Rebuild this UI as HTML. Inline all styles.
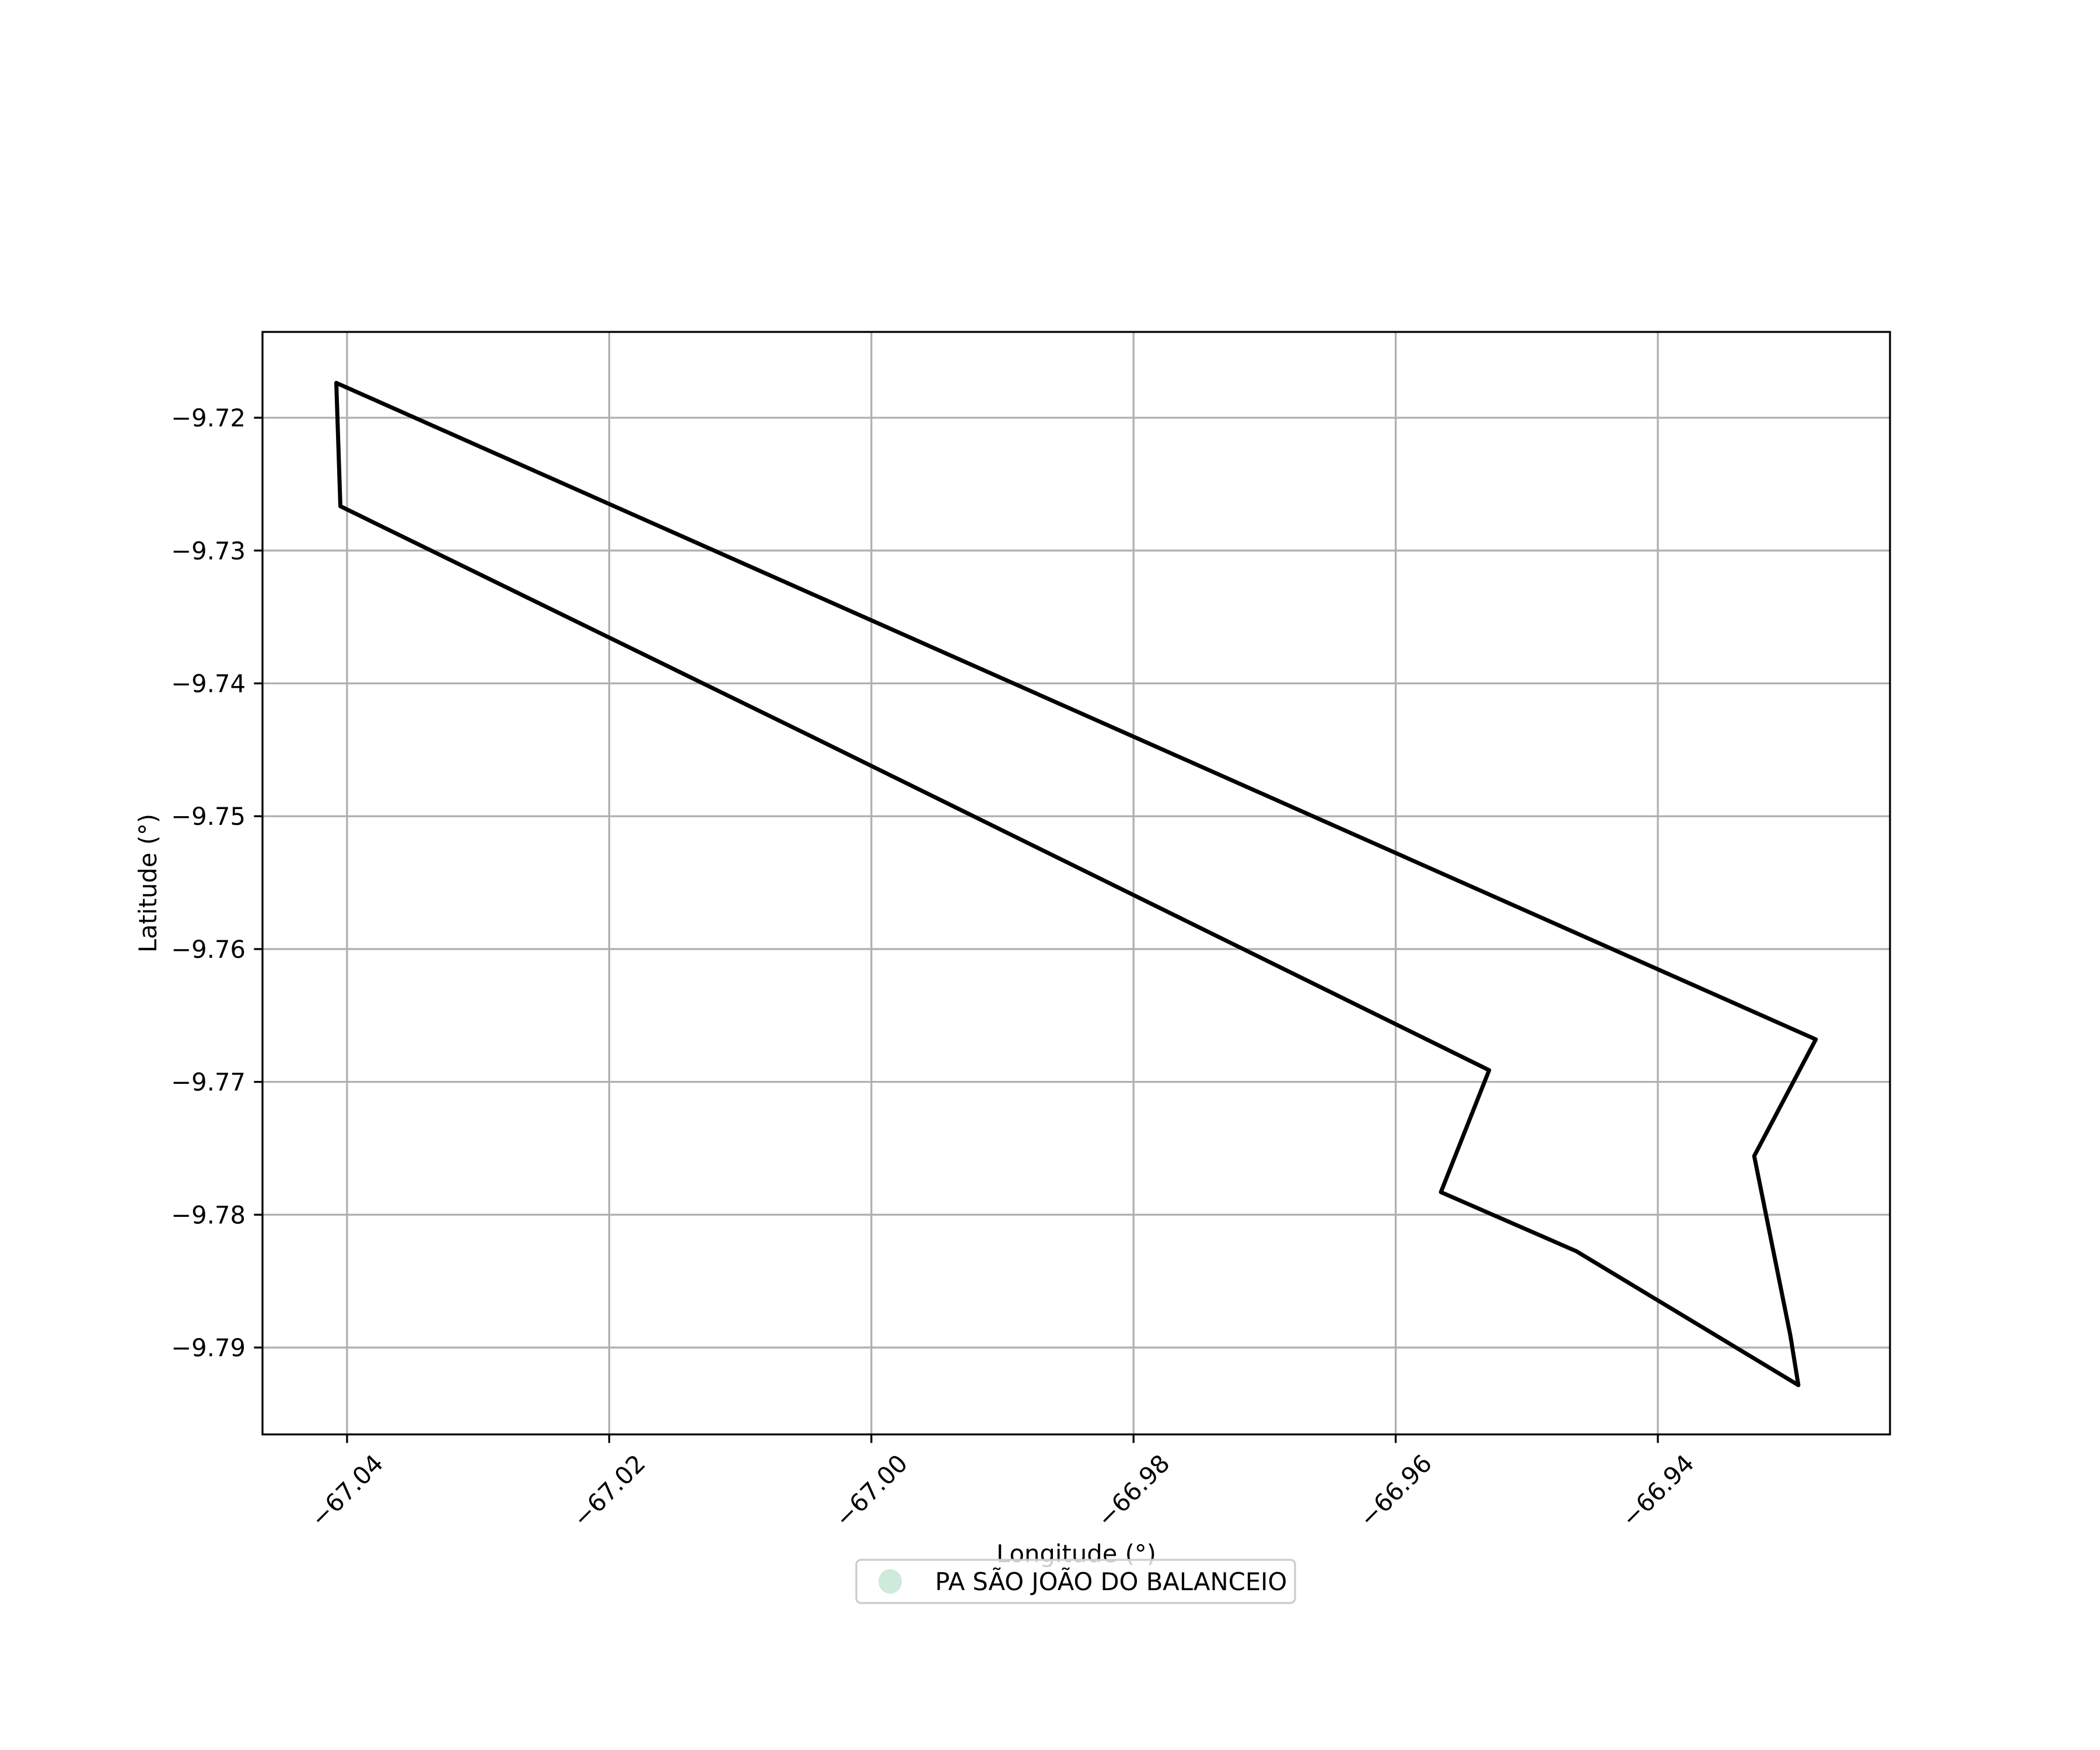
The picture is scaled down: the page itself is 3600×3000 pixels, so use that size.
<!DOCTYPE html>
<html><head><meta charset="utf-8"><style>
html,body{margin:0;padding:0;background:#fff;}
svg{display:block;font-family:"DejaVu Sans","Liberation Sans",sans-serif;}
</style></head>
<body>
<svg id="chart" width="3600" height="3000" viewBox="0 0 3600 3000" xmlns="http://www.w3.org/2000/svg">
<rect x="0" y="0" width="3600" height="3000" fill="#fff"/>
<g id="grid"></g>
<g id="marks"></g>
<g id="axes"></g>
</svg>
<script>
const lonVals = [-67.04082, -66.92795, -66.93265, -66.92989, -66.92928, -66.94623, -66.95655, -66.95287, -67.00496, -67.04051];
const latVals = [-9.71738, -9.76680, -9.77558, -9.78909, -9.79283, -9.78274, -9.77830, -9.76912, -9.74380, -9.72666];
const xTicks = [-67.04, -67.02, -67.00, -66.98, -66.96, -66.94];
const xTickLabels = ["\u221267.04", "\u221267.02", "\u221267.00", "\u221266.98", "\u221266.96", "\u221266.94"];
const yTicks = [-9.72, -9.73, -9.74, -9.75, -9.76, -9.77, -9.78, -9.79];
const yTickLabels = ["\u22129.72", "\u22129.73", "\u22129.74", "\u22129.75", "\u22129.76", "\u22129.77", "\u22129.78", "\u22129.79"];
const legendLabels = ["PA SÃO JOÃO DO BALANCEIO"];

const NS = "http://www.w3.org/2000/svg";
const L = 450, R = 3240, T = 569, B = 2459;
const xMin = -67.04645, xMax = -66.92229, yMin = -9.79654, yMax = -9.71354;
function sx(v){ return L + (v - xMin) / (xMax - xMin) * (R - L); }
function sy(v){ return B - (v - yMin) / (yMax - yMin) * (B - T); }
function mk(tag, attrs, parent){
  const e = document.createElementNS(NS, tag);
  for (const k in attrs) e.setAttribute(k, attrs[k]);
  parent.appendChild(e);
  return e;
}
const grid = document.getElementById('grid');
const marks = document.getElementById('marks');
const axes = document.getElementById('axes');

xTicks.forEach((v, i) => {
  const x = sx(v);
  const g = mk('line', {x1:x, x2:x, y1:T, y2:B, stroke:'#b0b0b0', 'stroke-width':3.3}, grid);
  
  
  const t = mk('line', {x1:x, x2:x, y1:B, y2:B+14.6, stroke:'#000', 'stroke-width':3.3}, axes);
  
  
  const cy = 2556;
  const lb = mk('text', {x:x, y:cy+14, 'font-size':41.7, 'text-anchor':'middle', fill:'#000', transform:`rotate(-45 ${x} ${cy})`}, axes);
  lb.textContent = xTickLabels[i];
  
  
});
yTicks.forEach((v, i) => {
  const y = sy(v);
  const g = mk('line', {x1:L, x2:R, y1:y, y2:y, stroke:'#b0b0b0', 'stroke-width':3.3}, grid);
  
  
  const t = mk('line', {x1:L-14.6, x2:L, y1:y, y2:y, stroke:'#000', 'stroke-width':3.3}, axes);
  
  
  const lb = mk('text', {x:L-29, y:y+15, 'font-size':41.7, 'text-anchor':'end', fill:'#000'}, axes);
  lb.textContent = yTickLabels[i];
  
  
});

const pts = lonVals.map((v, i) => sx(v).toFixed(1) + ',' + sy(latVals[i]).toFixed(1)).join(' ');
const poly = mk('polygon', {points:pts, fill:'none', stroke:'#000', 'stroke-width':7, 'stroke-linejoin':'round'}, marks);



const frame = mk('rect', {x:L, y:T, width:R-L, height:B-T, fill:'none', stroke:'#000', 'stroke-width':3.3}, axes);



const xl = mk('text', {x:(L+R)/2, y:2678, 'font-size':41.7, 'text-anchor':'middle', fill:'#000'}, axes);
xl.textContent = 'Longitude (°)';


const yl = mk('text', {x:0, y:0, 'font-size':41.7, 'text-anchor':'middle', fill:'#000', transform:`translate(268 ${(T+B)/2}) rotate(-90)`}, axes);
yl.textContent = 'Latitude (°)';



const leg = mk('g', {}, axes);


const lbox = mk('rect', {x:1468, y:2674, width:752, height:74, rx:8, fill:'#fff', 'fill-opacity':0.8, stroke:'#cccccc', 'stroke-width':3.3}, leg);


const lc = mk('ellipse', {cx:1526, cy:2711, rx:20, ry:21, fill:'#cdeadb'}, leg);


const lt = mk('text', {x:1603, y:2726, 'font-size':41.7, fill:'#000'}, leg);
lt.textContent = legendLabels[0];


</script>
</body></html>
